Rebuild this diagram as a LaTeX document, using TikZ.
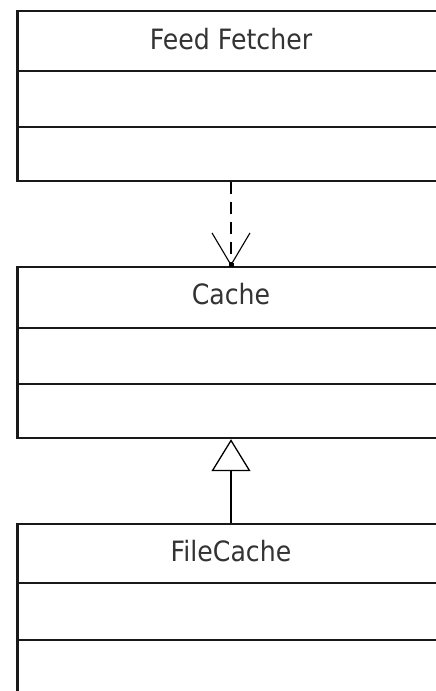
\documentclass[tikz,border=0pt]{standalone}
\usepackage{fontspec}
\setmainfont{DejaVu Sans}[FakeStretch=0.9]
\usetikzlibrary{arrows.meta,calc}

\tikzset{
  classbox/.style={draw=black!90, line width=2.2pt, fill=white, inner sep=0pt,
    minimum width=427pt, anchor=north},
  divider/.style={draw=black!90, line width=2.2pt},
  classname/.style={anchor=base, text=black!80, inner sep=0pt,
    font=\fontsize{28pt}{32pt}\selectfont},
  usesdep/.style={line width=1.9pt, dash pattern=on 12pt off 8pt,
    -{Straight Barb[length=32pt, width=38pt, line width=1.1pt, line join=miter]}},
  inherits/.style={line width=1.6pt,
    -{Triangle[open, length=32pt, width=39pt, line width=1.3pt, fill=white]}},
}

\begin{document}
\begin{tikzpicture}[x=1pt, y=-1pt]
  \useasboundingbox (0,0) rectangle (436,691);
  \clip (0,0) rectangle (436,691);
  \fill[white] (0,0) rectangle (436,691);

  % Feed Fetcher
  \node[classbox, minimum height=170pt] (ff) at (231,10) {};
  \draw[divider] ($(ff.north west)+(0,61)$) -- ($(ff.north east)+(0,61)$);
  \draw[divider] ($(ff.north west)+(0,117)$) -- ($(ff.north east)+(0,117)$);
  \node[classname] (ffname) at (231,49) {Feed Fetcher};

  % Cache
  \node[classbox, minimum height=171pt] (cache) at (231,266) {};
  \draw[divider] ($(cache.north west)+(0,62)$) -- ($(cache.north east)+(0,62)$);
  \draw[divider] ($(cache.north west)+(0,118)$) -- ($(cache.north east)+(0,118)$);
  \node[classname] (cachename) at (231,304) {Cache};

  % FileCache
  \node[classbox, minimum height=172pt] (fc) at (231,523) {};
  \draw[divider] ($(fc.north west)+(0,60)$) -- ($(fc.north east)+(0,60)$);
  \draw[divider] ($(fc.north west)+(0,117)$) -- ($(fc.north east)+(0,117)$);
  \node[classname] (fcname) at (231,561) {FileCache};

  % Relations
  \draw[usesdep] (ff.south) -- (cache.north);
  \fill ($(cache.north)+(-2.5,-3.5)$) rectangle ($(cache.north)+(2.5,0.5)$);
  \draw[inherits] (fc.north) -- (cache.south);
\end{tikzpicture}
\end{document}
